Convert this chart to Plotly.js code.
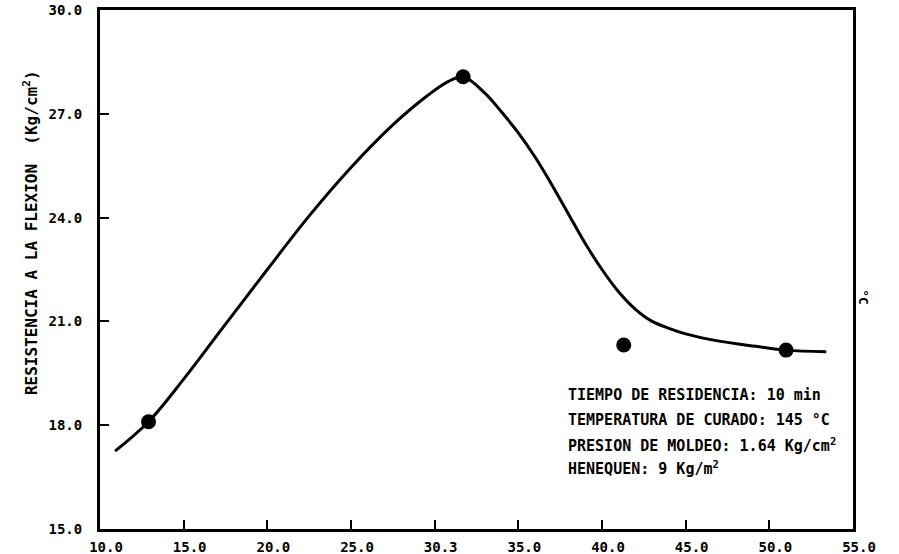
<!DOCTYPE html>
<html>
<head>
<meta charset="utf-8">
<script src="https://cdn.plot.ly/plotly-3.0.1.min.js"></script>
<style>html,body{margin:0;padding:0;background:#fff;}#chart{width:899px;height:554px;}</style>
</head>
<body>
<div id="chart"></div>
<script>
// Measured data points
const pointX = [12.9, 31.7, 41.3, 51.0];
const pointY = [18.1, 28.07, 20.32, 20.17];

// Fitted curve
const curveX = [10.9, 12.9, 15.0, 17.5, 20.0, 22.5, 25.0, 27.5, 29.5, 30.8, 31.7, 33.0, 34.0, 35.0, 36.0, 37.0, 38.0, 39.0, 40.0, 41.0, 42.0, 43.0, 44.0, 45.0, 47.0, 49.2, 51.0, 53.4];
const curveY = [17.25, 18.1, 19.33, 20.92, 22.5, 24.05, 25.45, 26.68, 27.5, 27.93, 28.07, 27.6, 27.05, 26.45, 25.75, 24.95, 24.1, 23.25, 22.5, 21.85, 21.35, 21.0, 20.8, 20.64, 20.43, 20.28, 20.17, 20.12];

const xTicks = [10, 15, 20, 25, 30, 35, 40, 45, 50, 55];
const xTickText = ["10.0", "15.0", "20.0", "25.0", "30.3", "35.0", "40.0", "45.0", "50.0", "55.0"];
const yTicks = [15, 18, 21, 24, 27, 30];
const yTickText = ["15.0", "18.0", "21.0", "24.0", "27.0", "30.0"];
const yTitle = "RESISTENCIA A LA FLEXION  (Kg/cm<sup>2</sup>)";

const noteLines = [
  "TIEMPO DE RESIDENCIA: 10 min",
  "TEMPERATURA DE CURADO: 145 °C",
  "PRESION DE MOLDEO: 1.64 Kg/cm<sup>2</sup>",
  "HENEQUEN: 9 Kg/m<sup>2</sup>"
];
const noteY = [18.87, 18.15, 17.43, 16.76];
const noteX = 37.85;

const mono = {family: "DejaVu Sans Mono, Liberation Mono, monospace", color: "#000", weight: "bold"};

const traces = [
  {x: curveX, y: curveY, mode: "lines", type: "scatter",
   line: {color: "#000", width: 3, shape: "spline", smoothing: 1}, hoverinfo: "skip"},
  {x: pointX, y: pointY, mode: "markers", type: "scatter",
   marker: {color: "#000", size: 15}}
];

const annotations = noteLines.map((t, i) => ({
  x: noteX, y: noteY[i], xref: "x", yref: "y", text: t, showarrow: false,
  xanchor: "left", yanchor: "middle", font: Object.assign({size: 15}, mono)
}));
annotations.push({x: -0.093, y: 0.572, xref: "paper", yref: "paper", text: yTitle, showarrow: false,
  textangle: -90, xanchor: "center", yanchor: "middle", font: Object.assign({size: 16}, mono)});
annotations.push({x: 1.027, y: 0.447, xref: "paper", yref: "paper", text: "°C", showarrow: false,
  textangle: 90, font: Object.assign({size: 13}, mono)});

const layout = {
  width: 899, height: 554,
  margin: {l: 100, r: 46, t: 10, b: 25},
  paper_bgcolor: "#fff", plot_bgcolor: "#fff",
  showlegend: false,
  xaxis: {
    range: [10, 55], tickvals: xTicks, ticktext: xTickText,
    showgrid: false, zeroline: false,
    showline: true, linecolor: "#000", linewidth: 3, mirror: true,
    ticks: "inside", ticklen: 9, tickwidth: 2, tickcolor: "#000",
    ticklabelshift: 6, ticklabelstandoff: 3,
    tickfont: Object.assign({size: 14}, mono)
  },
  yaxis: {
    range: [15, 30], tickvals: yTicks, ticktext: yTickText,
    showgrid: false, zeroline: false,
    showline: true, linecolor: "#000", linewidth: 3, mirror: true,
    ticks: "inside", ticklen: 9, tickwidth: 2, tickcolor: "#000",
    ticklabelstandoff: 12,
    tickfont: Object.assign({size: 14}, mono)
  },
  annotations: annotations
};

Plotly.newPlot("chart", traces, layout, {displayModeBar: false, staticPlot: true});
</script>
</body>
</html>
